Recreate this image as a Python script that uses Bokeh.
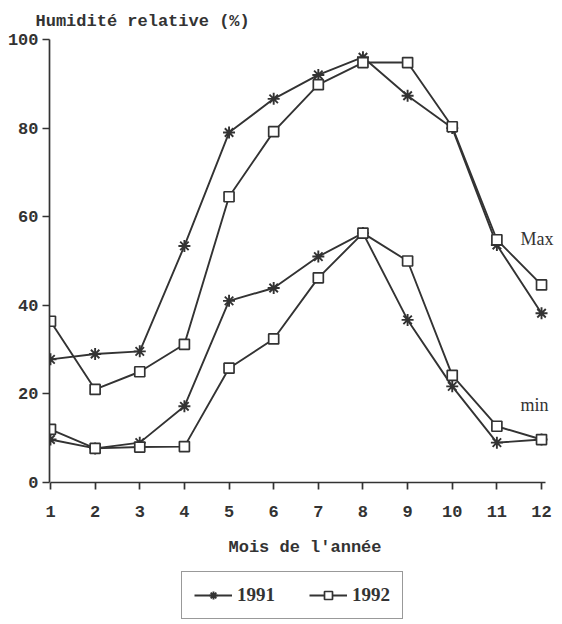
from bokeh.plotting import figure
from bokeh.layouts import column
from bokeh.models import Range1d, Legend, LegendItem, Label, FixedTicker
from bokeh.embed import file_html
from bokeh.resources import INLINE

months = [1, 2, 3, 4, 5, 6, 7, 8, 9, 10, 11, 12]
max_1991 = [27.8, 29.0, 29.6, 53.4, 79.0, 86.6, 92.0, 96.0, 87.3, 80.0, 53.6, 38.2]
max_1992 = [36.4, 21.0, 25.0, 31.2, 64.5, 79.2, 89.8, 94.8, 94.8, 80.3, 54.8, 44.6]
min_1991 = [9.7, 7.7, 9.0, 17.2, 41.0, 43.9, 51.0, 56.3, 36.7, 21.7, 9.0, 9.7]
min_1992 = [12.0, 7.7, 8.0, 8.1, 25.8, 32.4, 46.2, 56.3, 50.0, 24.2, 12.7, 9.7]
y_ticks = [0, 20, 40, 60, 80, 100]
series_labels = ["1991", "1992"]

INK = "#333333"

p = figure(width=560, height=571, output_backend="svg", toolbar_location=None,
           x_range=Range1d(0.978, 12.425), y_range=Range1d(0, 100),
           min_border_left=49, min_border_right=0, min_border_top=39,
           min_border_bottom=89)
p.outline_line_color = None
p.grid.grid_line_color = None
p.background_fill_color = "white"
p.border_fill_color = "white"

p.title.text = "Humidité relative (%)"
p.title.text_font = "Liberation Mono"
p.title.text_font_style = "bold"
p.title.text_font_size = "17px"
p.title.text_color = INK
p.title.align = "left"
p.title.offset = -14
p.title.standoff = 17

for ax in (p.xaxis[0], p.yaxis[0]):
    ax.axis_line_color = INK
    ax.axis_line_width = 1.7
    ax.major_tick_line_color = INK
    ax.major_tick_line_width = 1.7
    ax.minor_tick_line_color = None
    ax.major_tick_in = 0
    ax.major_tick_out = 7
    ax.major_label_text_font = "Liberation Mono"
    ax.major_label_text_font_style = "bold"
    ax.major_label_text_font_size = "17px"
    ax.major_label_text_color = INK

p.xaxis.ticker = FixedTicker(ticks=months)
p.xaxis.bounds = (1, 12.1)
p.xaxis.major_label_standoff = 16
p.xaxis.axis_label = "Mois de l'année"
p.xaxis.axis_label_text_font = "Liberation Mono"
p.xaxis.axis_label_text_font_style = "bold"
p.xaxis.axis_label_text_font_size = "17px"
p.xaxis.axis_label_text_color = INK
p.xaxis.axis_label_standoff = 18

p.yaxis.ticker = FixedTicker(ticks=y_ticks)
p.yaxis.bounds = (0, 100)
p.yaxis.major_label_standoff = 4

def series(fig, xs, ys, marker):
    l = fig.line(xs, ys, line_color=INK, line_width=1.9)
    if marker == "asterisk":
        s = fig.scatter(xs, ys, marker="asterisk", size=12, line_color=INK, line_width=1.9)
    else:
        s = fig.scatter(xs, ys, marker="square", size=10, line_color=INK,
                        fill_color="white", line_width=1.7)
    return l, s

series(p, months, max_1991, "asterisk")
series(p, months, max_1992, "square")
series(p, months, min_1991, "asterisk")
series(p, months, min_1992, "square")

for txt, yv in (("Max", 55), ("min", 17.5)):
    p.add_layout(Label(x=11.53, y=yv, text=txt, text_font="Liberation Serif",
                       text_font_size="18px", text_color=INK, text_baseline="middle"))

# legend strip below the chart (its renderers lie outside the strip's ranges)
lf = figure(width=560, height=51, output_backend="svg", toolbar_location=None,
            x_range=Range1d(100, 101), y_range=Range1d(200, 201),
            x_axis_location=None, y_axis_location=None,
            min_border_left=0, min_border_right=0, min_border_top=0, min_border_bottom=0)
lf.outline_line_color = None
lf.grid.grid_line_color = None
la, sa = series(lf, months, max_1991, "asterisk")
lb, sb = series(lf, months, max_1992, "square")

legend = Legend(items=[LegendItem(label=series_labels[0], renderers=[la, sa]),
                       LegendItem(label=series_labels[1], renderers=[lb, sb])],
                orientation="horizontal", location=(132, 3),
                border_line_color=INK, border_line_width=1.7,
                background_fill_color="white", background_fill_alpha=1,
                label_text_font="Liberation Serif", label_text_font_style="bold",
                label_text_font_size="19px", label_text_color=INK,
                glyph_width=38, label_standoff=5, spacing=34,
                padding=12, margin=0)
legend.padding = 12
lf.add_layout(legend)

open("out.html", "w").write(file_html(column(p, lf, spacing=0), INLINE))
